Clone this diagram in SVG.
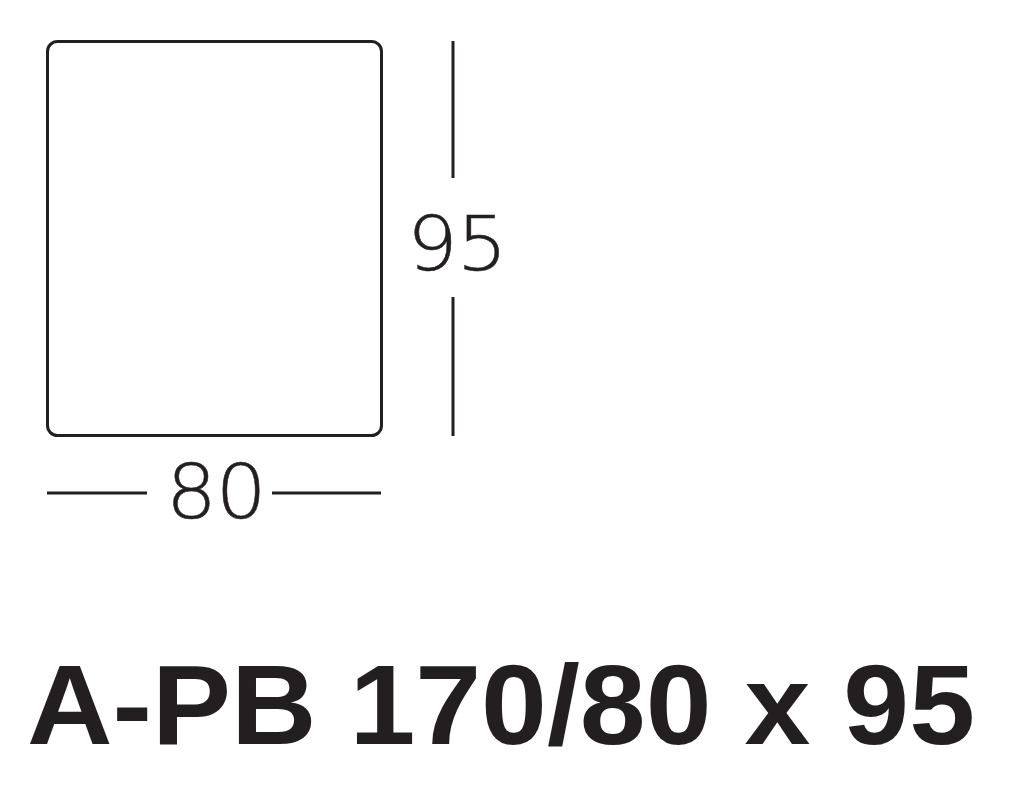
<svg xmlns="http://www.w3.org/2000/svg" width="1024" height="793" viewBox="0 0 1024 793">
<style>
.ln{stroke:#231f20;stroke-width:3;fill:none}
.dim{font-family:"DejaVu Sans ExtraLight","DejaVu Sans","Liberation Sans",sans-serif;font-weight:200;font-size:74px;fill:#231f20;stroke:#231f20;stroke-width:0.5;letter-spacing:-1px}
.title{font-family:"Liberation Sans",Arial,sans-serif;font-weight:bold;font-size:114px;fill:#231f20}
</style>
<rect width="1024" height="793" fill="#ffffff"/>
<g id="table">
<rect class="ln" x="47.5" y="41.5" width="334" height="394" rx="10" ry="10"/>
</g>
<g id="dimensions">
<line class="ln" x1="453" y1="41" x2="453" y2="178"/>
<line class="ln" x1="453" y1="297" x2="453" y2="436"/>
<line class="ln" x1="47" y1="493" x2="147" y2="493"/>
<line class="ln" x1="272" y1="493" x2="381" y2="493"/>
<text class="dim" transform="translate(407,270) scale(1.08,1)">95</text>
<text class="dim" transform="translate(166,518) scale(1.08,1)">80</text>
</g>
<text class="title" x="27" y="744" textLength="948" lengthAdjust="spacingAndGlyphs">A-PB 170/80 x 95</text>
</svg>
